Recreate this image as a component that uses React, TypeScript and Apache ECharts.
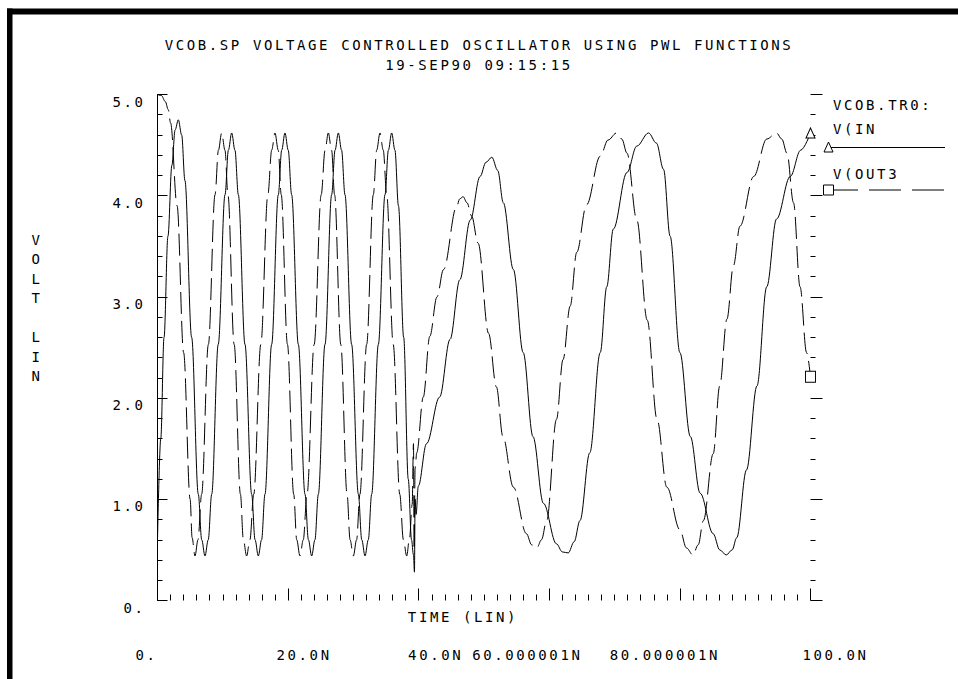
import React, { useEffect, useRef } from "react";
import * as echarts from "echarts";

// ---------------- data ----------------
const titleText = "VCOB.SP VOLTAGE CONTROLLED OSCILLATOR USING PWL FUNCTIONS";
const subtitleText = "19-SEP90 09:15:15";
const fileLabel = "VCOB.TR0:";
const seriesNames = ["V(IN", "V(OUT3"];
const yTickValues = [0, 1, 2, 3, 4, 5];
const yTickLabels = ["0.", "1.0", "2.0", "3.0", "4.0", "5.0"];
const xTickValues = [0, 20, 40, 60, 80, 100];
const xTickLabels = ["0.", "20.0N", "40.0N", "60.000001N", "80.000001N", "100.0N"];
const xAxisTitle = "TIME (LIN)";
const yAxisTitleLetters = ["V", "O", "L", "T", "", "L", "I", "N"];

// V(IN : [time ns, volts]
const vInPoints: number[][] = [
  [0, 0.6], [0.5, 1.6], [1.0, 2.6], [1.6, 3.6], [2.2, 4.3], [2.7, 4.65], [3.19, 4.75],
  [3.7, 4.6], [4.2, 4.15], [5.23, 2.6], [6.25, 1.05], [6.77, 0.6], [7.27, 0.44],
  [7.77, 0.6], [8.3, 1.05], [9.3, 2.53], [10.34, 4.01], [10.86, 4.45], [11.36, 4.62],
  [11.86, 4.45], [12.38, 4.01], [13.4, 2.53], [14.42, 1.05], [14.94, 0.6], [15.44, 0.44],
  [15.94, 0.6], [16.46, 1.05], [17.48, 2.53], [18.5, 4.01], [19.02, 4.45], [19.52, 4.62],
  [20.02, 4.45], [20.54, 4.01], [21.57, 2.53], [22.59, 1.05], [23.11, 0.6], [23.61, 0.44],
  [24.11, 0.6], [24.63, 1.05], [25.65, 2.53], [26.67, 4.01], [27.19, 4.45], [27.69, 4.62],
  [28.19, 4.45], [28.71, 4.01], [29.73, 2.53], [30.76, 1.05], [31.28, 0.6], [31.78, 0.44],
  [32.28, 0.6], [32.8, 1.05], [33.82, 2.53], [34.84, 4.01], [35.36, 4.45], [35.86, 4.62],
  [36.36, 4.45], [36.9, 3.9], [37.7, 2.6], [38.4, 1.2], [38.9, 0.6], [39.2, 0.45],
  [39.35, 0.28], [39.45, 1.0], [39.6, 0.85], [39.94, 1.13], [41.2, 1.55], [43.2, 2.01],
  [44.8, 2.58], [46.3, 3.17], [47.9, 3.76], [49.4, 4.19], [50.3, 4.33], [51.2, 4.38],
  [52.1, 4.25], [52.96, 3.93], [54.5, 3.27], [56.0, 2.45], [57.5, 1.62], [59.1, 0.96],
  [61.1, 0.56], [62.0, 0.48], [62.9, 0.47], [63.8, 0.58], [64.7, 0.79], [66.2, 1.46],
  [67.8, 2.45], [68.8, 3.1], [69.8, 3.67], [71.9, 4.23], [73.4, 4.49], [75.2, 4.62],
  [76.4, 4.52], [77.5, 4.26], [78.5, 3.6], [80.0, 2.45], [81.6, 1.62], [83.1, 1.06],
  [85.1, 0.66], [86.1, 0.5], [87.1, 0.45], [88.0, 0.5], [88.7, 0.62], [90.2, 1.29],
  [91.8, 2.12], [93.3, 3.1], [94.8, 3.77], [96.9, 4.19], [98.5, 4.45], [100, 4.62],
];

// V(OUT3 : [time ns, volts]
const vOut3Points: number[][] = [
  [0, 5.0], [0.6, 4.99], [1.2, 4.93], [1.65, 4.85], [2.0, 4.72], [3.0, 3.9], [4.0, 2.45],
  [5.0, 1.0], [5.3, 0.62], [5.74, 0.44], [6.2, 0.6], [6.76, 1.05], [7.79, 2.53],
  [8.81, 4.01], [9.33, 4.45], [9.83, 4.62], [10.33, 4.45], [10.79, 4.01], [11.74, 2.53],
  [12.7, 1.05], [13.15, 0.6], [13.65, 0.44], [14.15, 0.6], [14.74, 1.05], [15.82, 2.53],
  [16.9, 4.01], [17.49, 4.45], [17.99, 4.62], [18.49, 4.45], [18.95, 4.01], [19.9, 2.53],
  [20.86, 1.05], [21.32, 0.6], [21.82, 0.44], [22.32, 0.6], [22.9, 1.05], [23.99, 2.53],
  [25.07, 4.01], [25.66, 4.45], [26.16, 4.62], [26.66, 4.45], [27.12, 4.01], [28.07, 2.53],
  [29.03, 1.05], [29.49, 0.6], [29.99, 0.44], [30.49, 0.6], [31.0, 1.05], [32.03, 2.53],
  [33.05, 4.01], [33.57, 4.45], [34.07, 4.62], [34.57, 4.45], [35.1, 4.01], [36.1, 2.53],
  [37.1, 1.05], [37.66, 0.6], [38.16, 0.44], [38.6, 0.62], [39.0, 0.95], [39.2, 1.55],
  [39.3, 0.5], [39.45, 1.3], [39.7, 1.46], [40.7, 2.01], [41.7, 2.61], [42.8, 3.0],
  [43.8, 3.27], [45.8, 3.89], [46.3, 3.97], [46.8, 3.99], [47.4, 3.93], [48.1, 3.8],
  [49.1, 3.53], [50.7, 2.64], [51.9, 2.11], [52.9, 1.62], [54.5, 1.12], [56.5, 0.66],
  [57.3, 0.55], [58.1, 0.52], [58.8, 0.6], [59.6, 0.79], [61.1, 1.79], [62.1, 2.38],
  [63.2, 2.91], [64.2, 3.44], [65.7, 3.91], [67.8, 4.39], [69.0, 4.55], [70.3, 4.62],
  [71.1, 4.56], [71.9, 4.42], [73.4, 3.76], [75.0, 2.77], [76.5, 1.79], [78.0, 1.12],
  [80.0, 0.7], [81.0, 0.52], [82.0, 0.45], [82.8, 0.55], [83.6, 0.79], [85.1, 1.45],
  [86.1, 2.12], [87.2, 2.78], [88.2, 3.31], [89.2, 3.7], [91.3, 4.19], [93.3, 4.56],
  [94.8, 4.62], [95.6, 4.56], [96.4, 4.42], [97.4, 3.93], [98.4, 3.1], [99.4, 2.45],
  [100, 2.21],
];

// ---------------- layout / style ----------------
const W = 958;
const H = 679;
const FONT = "'DejaVu Sans Mono', monospace";
const FS = 14;
const GRID = { left: 157.5, top: 94.5, right: W - 810.5, bottom: H - 600.5 };
// horizontal shift of each x tick label relative to its tick (px)
const xLabelShift = [-11, 16, 17, -22, -15, 25];
// vertical shift of each y tick label below its tick (px)
const yLabelShift = [7, 7, 7, 7, 7, 7];

function withEndSymbol(points: number[][], symbol: string, size: number[]) {
  return points.map((p, i) =>
    i === points.length - 1
      ? { value: p, symbol, symbolSize: size }
      : { value: p, symbol: "none" }
  );
}

export default function App() {
  const ref = useRef<HTMLDivElement>(null);

  useEffect(() => {
    if (!ref.current) return;
    const chart = echarts.init(ref.current, undefined, { renderer: "svg" });

    const textBase = { fontFamily: FONT, fontSize: FS, color: "#000", fontWeight: "normal" as const };

    const xRich: Record<string, any> = {};
    xLabelShift.forEach((s, i) => {
      xRich["l" + i] = {
        ...textBase,
        align: "center",
        padding: s >= 0 ? [0, 0, 0, 2 * s] : [0, -2 * s, 0, 0],
      };
    });
    const yRich: Record<string, any> = {};
    yLabelShift.forEach((s, i) => {
      yRich["y" + i] = { ...textBase, padding: [2 * s, 0, 0, 0] };
    });

    const legendX = 833;
    const graphic: any[] = [
      // frame bars
      { type: "rect", shape: { x: 7, y: 8.5, width: W - 7, height: 6 }, style: { fill: "#000" }, silent: true },
      { type: "rect", shape: { x: 7, y: 8.5, width: 5.5, height: H - 8.5 }, style: { fill: "#000" }, silent: true },
      // y axis title (stacked letters)
      {
        type: "text",
        x: 37,
        y: 230,
        style: { ...textBase, text: yAxisTitleLetters.join("\n"), align: "center", verticalAlign: "top", lineHeight: 19.5, fill: "#000" },
        silent: true,
      },
      // x axis title
      {
        type: "text",
        x: 463,
        y: 617,
        style: { ...textBase, text: xAxisTitle, align: "center", verticalAlign: "middle", fill: "#000" },
        silent: true,
      },
      // legend
      { type: "text", x: legendX, y: 105, style: { ...textBase, text: fileLabel, verticalAlign: "middle", fill: "#000" }, silent: true },
      { type: "text", x: legendX, y: 129, style: { ...textBase, text: seriesNames[0], verticalAlign: "middle", fill: "#000" }, silent: true },
      { type: "line", shape: { x1: 828, y1: 147.5, x2: 945, y2: 147.5 }, style: { stroke: "#000", lineWidth: 1 }, silent: true },
      { type: "polygon", shape: { points: [[828.5, 142], [824, 152], [833, 152]] }, style: { fill: "#fff", stroke: "#000", lineWidth: 1 }, silent: true },
      { type: "text", x: legendX, y: 174, style: { ...textBase, text: seriesNames[1], verticalAlign: "middle", fill: "#000" }, silent: true },
      { type: "line", shape: { x1: 826, y1: 190, x2: 945, y2: 190 }, style: { stroke: "#000", lineWidth: 1, lineDash: [32, 11] }, silent: true },
      { type: "rect", shape: { x: 823.5, y: 185, width: 10, height: 10 }, style: { fill: "#fff", stroke: "#000", lineWidth: 1 }, silent: true },
    ];

    const option: any = {
      animation: false,
      backgroundColor: "#fff",
      title: {
        left: "center",
        top: 33,
        itemGap: 6,
        text: titleText,
        subtext: subtitleText,
        textStyle: { ...textBase, lineHeight: 14 },
        subtextStyle: { ...textBase, lineHeight: 14 },
      },
      grid: GRID,
      xAxis: {
        type: "value",
        min: 0,
        max: 100,
        interval: 20,
        axisLine: { show: false },
        axisTick: { show: true, inside: true, length: 12, lineStyle: { color: "#000", width: 1 } },
        minorTick: { show: true, splitNumber: 10, length: 6, lineStyle: { color: "#000", width: 1 } },
        splitLine: { show: false },
        minorSplitLine: { show: false },
        axisLabel: {
          margin: 47,
          formatter: (v: number) => {
            const i = xTickValues.indexOf(v);
            return i < 0 ? "" : `{l${i}|${xTickLabels[i]}}`;
          },
          rich: xRich,
          ...textBase,
        },
      },
      yAxis: [
        {
          type: "value",
          min: 0,
          max: 5,
          interval: 1,
          position: "left",
          axisLine: { show: true, lineStyle: { color: "#000", width: 1 } },
          axisTick: { show: true, inside: true, length: 10, lineStyle: { color: "#000", width: 1 } },
          minorTick: { show: true, splitNumber: 5, length: 5, lineStyle: { color: "#000", width: 1 } },
          splitLine: { show: false },
          minorSplitLine: { show: false },
          axisLabel: {
            ...textBase,
            margin: 12,
            rich: yRich,
            formatter: (v: number) => {
              const i = yTickValues.indexOf(v);
              return i < 0 ? "" : `{y${i}|${yTickLabels[i]}}`;
            },
          },
        },
        {
          type: "value",
          min: 0,
          max: 5,
          interval: 1,
          position: "right",
          axisLine: { show: false },
          axisTick: { show: true, inside: false, length: 12, lineStyle: { color: "#000", width: 1 } },
          minorTick: { show: true, splitNumber: 5, length: 5, lineStyle: { color: "#000", width: 1 } },
          splitLine: { show: false },
          minorSplitLine: { show: false },
          axisLabel: { show: false },
        },
      ],
      series: [
        {
          name: seriesNames[0],
          type: "line",
          silent: true,
          smooth: 0.35,
          smoothMonotone: "x",
          showSymbol: true,
          showAllSymbol: true,
          symbol: "none",
          lineStyle: { color: "#000", width: 1, type: "solid" },
          itemStyle: { color: "#fff", borderColor: "#000", borderWidth: 1 },
          data: withEndSymbol(vInPoints, "triangle", [9, 10]),
          z: 3,
        },
        {
          name: seriesNames[1],
          type: "line",
          silent: true,
          smooth: 0.35,
          smoothMonotone: "x",
          showSymbol: true,
          showAllSymbol: true,
          symbol: "none",
          lineStyle: { color: "#000", width: 1, type: [22, 7] },
          itemStyle: { color: "#fff", borderColor: "#000", borderWidth: 1 },
          data: withEndSymbol(vOut3Points, "rect", [10, 11]),
          z: 3,
        },
      ],
      graphic,
    };

    chart.setOption(option);
    return () => chart.dispose();
  }, []);

  return (
    <>
      <style>{`#vco-chart text { letter-spacing: 2.6px; }`}</style>
      <div
        id="vco-chart"
        ref={ref}
        style={{ position: "absolute", left: 0, top: 0, width: W, height: H, background: "#fff" }}
      />
    </>
  );
}
